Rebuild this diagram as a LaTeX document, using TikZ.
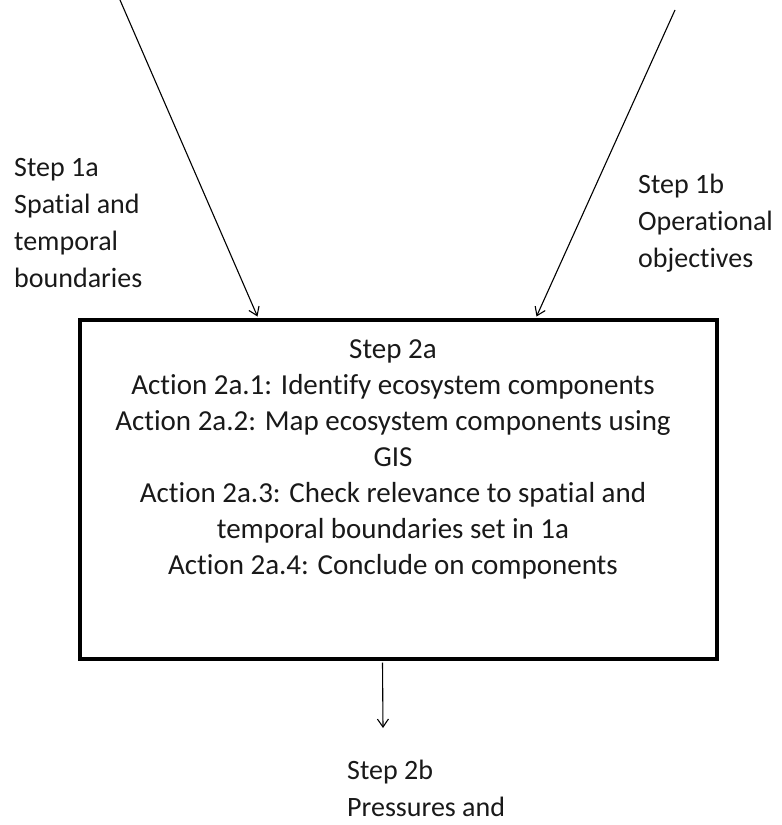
\documentclass[tikz,border=0pt]{standalone}
\usepackage{fontspec}
\setmainfont[Ligatures=NoCommon]{Carlito}
\usetikzlibrary{arrows.meta,calc}
\begin{document}
\begin{tikzpicture}[x=1pt,y=-1pt,
  lbl/.style={inner sep=0pt,font=\fontsize{28}{37}\selectfont,text=black!90},
  boxlbl/.style={inner sep=0pt,font=\fontsize{29}{36}\selectfont,text=black!90},
  flow/.style={line width=1.1pt,-{Straight Barb[length=8pt,width=11pt,line width=1.1pt]}},
  stepbox/.style={draw,line width=4pt,minimum width=637pt,minimum height=339pt,inner sep=0pt}]
\useasboundingbox (0,0) rectangle (782,825);

% central step box and its contents (anchored on the last baseline)
\node[stepbox] (box) at (398,489) {};
\node[boxlbl,align=center,anchor=base] (boxtext) at (393,574)
  {Step 2a\\Action 2a.1: Identify ecosystem components\\
   Action 2a.2: Map ecosystem components using\\GIS\\
   Action 2a.3: Check relevance to spatial and\\
   temporal boundaries set in 1a\\
   Action 2a.4: Conclude on components};

% side labels (anchored on the last baseline)
\node[lbl,align=left,anchor=base west] (s1a) at (14,287)
  {Step 1a\\Spatial and\\temporal\\boundaries};
\node[lbl,align=left,anchor=base west] (s1b) at (638,267)
  {Step 1b\\Operational\\objectives};
\node[lbl,align=left,anchor=base west] (s2b) at (347,816)
  {Step 2b\\Pressures and};

% incoming and outgoing arrows
\coordinate (srcA) at (120,0);
\coordinate (srcB) at (675,10);
\coordinate (outB) at (383,728);
\draw[flow] (srcA) -- ($(box.north west)+(180,-1)$);
\draw[flow] (srcB) -- ($(box.north west)+(459,-1)$);
\draw[flow] ($(box.south west)+(305,2)$) -- (outB);
\end{tikzpicture}
\end{document}
